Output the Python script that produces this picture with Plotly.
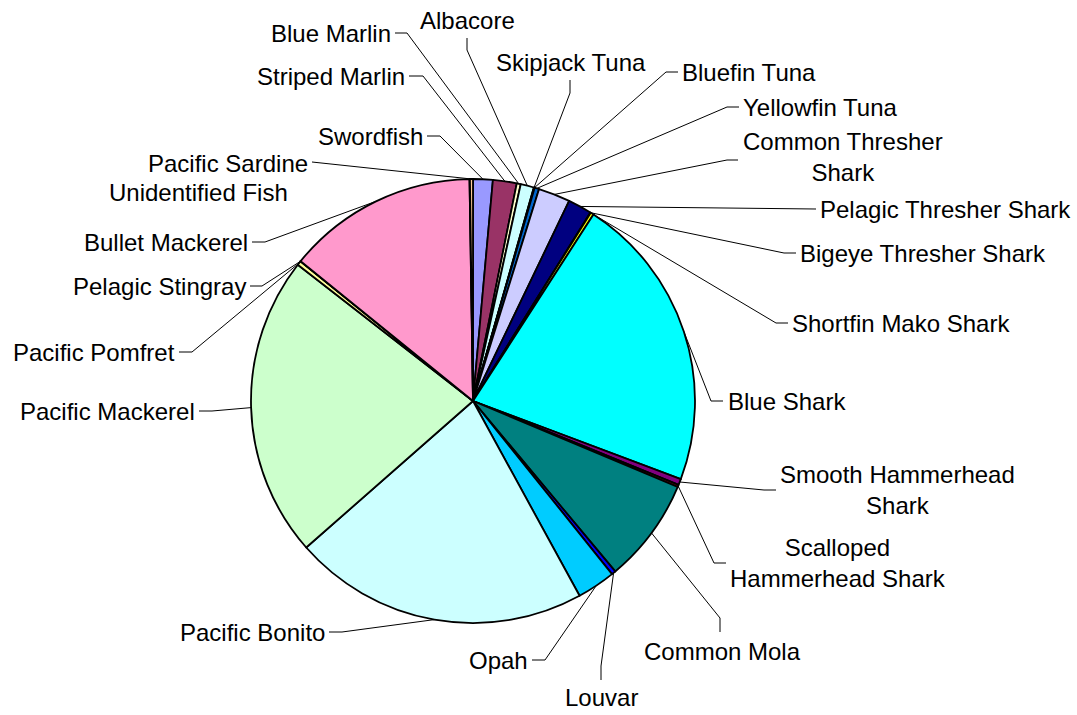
import math
import plotly.graph_objects as go

# ---------------- data ----------------
species = [
    "Swordfish", "Striped Marlin", "Blue Marlin", "Albacore", "Skipjack Tuna",
    "Bluefin Tuna", "Yellowfin Tuna", "Common Thresher Shark", "Pelagic Thresher Shark",
    "Bigeye Thresher Shark", "Shortfin Mako Shark", "Blue Shark", "Smooth Hammerhead Shark",
    "Scalloped Hammerhead Shark", "Common Mola", "Louvar", "Opah", "Pacific Bonito",
    "Pacific Mackerel", "Pacific Pomfret", "Pelagic Stingray", "Bullet Mackerel",
    "Unidentified Fish", "Pacific Sardine",
]
share = [
    1.43, 1.73, 0.29, 0.97, 0.03,
    0.03, 0.33, 2.32, 1.74,
    0.03, 0.23, 21.6, 0.44,
    0.17, 7.6, 0.30, 2.8, 21.5,
    22.0, 0.30, 0.03, 13.9,
    0.03, 0.22,
]
label_text = [
    "Swordfish", "Striped Marlin", "Blue Marlin", "Albacore", "Skipjack Tuna",
    "Bluefin Tuna", "Yellowfin Tuna", "Common Thresher<br>Shark", "Pelagic Thresher Shark",
    "Bigeye Thresher Shark", "Shortfin Mako Shark", "Blue Shark", "Smooth Hammerhead<br>Shark",
    "Scalloped<br>Hammerhead Shark", "Common Mola", "Louvar", "Opah", "Pacific Bonito",
    "Pacific Mackerel", "Pacific Pomfret", "Pelagic Stingray", "Bullet Mackerel",
    "Unidentified Fish", "Pacific Sardine",
]

# ---------------- styles / layout ----------------
colors = [
    "#9999FF", "#993366", "#FFFFCC", "#CCFFFF", "#660066",
    "#FF8080", "#0066CC", "#CCCCFF", "#000080",
    "#FF00FF", "#FFFF00", "#00FFFF", "#800080",
    "#800000", "#008080", "#0000FF", "#00CCFF", "#CCFFFF",
    "#CCFFCC", "#FFFF99", "#99CCFF", "#FF99CC",
    "#CC99FF", "#FFCC99",
]

W, H = 1077, 715
CX, CY, R = 473, 401, 222  # pie centre / radius in pixels

# label placement: (text x, text y, xanchor, attach point, elbow point) ; None -> no leader
label_layout = {
    "Swordfish": (425, 136, "right", (427, 136), (440, 136)),
    "Striped Marlin": (407, 76, "right", (409, 76), (423, 76)),
    "Blue Marlin": (393, 33, "right", (395, 33), (407, 33)),
    "Albacore": (467, 20, "center", (467, 38), (467, 50)),
    "Skipjack Tuna": (571, 62, "center", (570, 80), (570, 93)),
    "Bluefin Tuna": (680, 72, "left", (678, 72), (666, 72)),
    "Yellowfin Tuna": (741, 107, "left", (739, 107), (727, 107)),
    "Common Thresher Shark": (843, 157, "center", (738, 160), (727, 160)),
    "Pelagic Thresher Shark": (818, 209, "left", (816, 209), (804, 209)),
    "Bigeye Thresher Shark": (798, 253, "left", (796, 253), (784, 253)),
    "Shortfin Mako Shark": (790, 323, "left", (788, 323), (776, 323)),
    "Blue Shark": (726, 401, "left", (723, 401), (711, 401)),
    "Smooth Hammerhead Shark": (897, 490, "center", (776, 490), (764, 490)),
    "Scalloped Hammerhead Shark": (838, 563, "center", (726, 563), (714, 563)),
    "Common Mola": (722, 651, "center", (720, 632), (720, 618)),
    "Louvar": (601, 697, "center", (601, 680), (601, 666)),
    "Opah": (530, 660, "right", (532, 660), (545, 660)),
    "Pacific Bonito": (327, 632, "right", (329, 632), (342, 632)),
    "Pacific Mackerel": (197, 411, "right", (199, 411), (212, 411)),
    "Pacific Pomfret": (177, 352, "right", (179, 352), (192, 352)),
    "Pelagic Stingray": (248, 286, "right", (250, 286), (262, 286)),
    "Bullet Mackerel": (250, 242, "right", (252, 242), (265, 242)),
    "Unidentified Fish": (290, 192, "right", None, None),
    "Pacific Sardine": (310, 163, "right", (312, 162), (312, 162)),
}

FONT = dict(family="Liberation Sans, Arial, sans-serif", size=24, color="black")

fig = go.Figure()

fig.add_trace(go.Pie(
    labels=species,
    values=share,
    sort=False,
    direction="clockwise",
    rotation=0,
    textinfo="none",
    hoverinfo="label+percent",
    marker=dict(colors=colors, line=dict(color="black", width=1.8)),
    domain=dict(x=[(CX - R) / W, (CX + R) / W], y=[(H - CY - R) / H, (H - CY + R) / H]),
    showlegend=False,
))

# leader lines from slice mid-edge (computed from data) to label
total = sum(share)
cum = 0.0
lx, ly = [], []
annotations = []
for name, val, txt in zip(species, share, label_text):
    mid = (cum + val / 2) / total * 2 * math.pi
    cum += val
    ex = CX + R * math.sin(mid)
    ey = CY - R * math.cos(mid)
    tx, ty, xa, attach, elbow = label_layout[name]
    if attach is not None:
        lx += [ex, elbow[0], attach[0], None]
        ly += [ey, elbow[1], attach[1], None]
    annotations.append(dict(
        x=tx, y=ty, xref="x", yref="y", text=txt, showarrow=False,
        xanchor=xa, yanchor="middle", align="center", font=FONT,
    ))

fig.add_trace(go.Scatter(
    x=lx, y=ly, mode="lines", line=dict(color="black", width=1),
    hoverinfo="skip", showlegend=False,
))

fig.update_layout(
    width=W, height=H,
    margin=dict(l=0, r=0, t=0, b=0),
    paper_bgcolor="white", plot_bgcolor="rgba(0,0,0,0)",
    xaxis=dict(range=[0, W], visible=False, fixedrange=True, domain=[0, 1]),
    yaxis=dict(range=[H, 0], visible=False, fixedrange=True, domain=[0, 1]),
    annotations=annotations,
)

fig.write_html(
    "out.html",
    config={"displayModeBar": False},
    post_script="document.body.style.margin='0';document.body.style.overflow='hidden';",
)
